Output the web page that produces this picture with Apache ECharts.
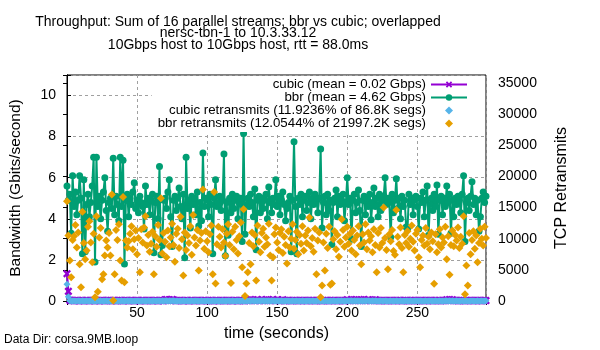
<!DOCTYPE html>
<html>
<head>
<meta charset="utf-8">
<script src="https://cdn.jsdelivr.net/npm/echarts@6/dist/echarts.min.js"></script>
<style>
html,body{margin:0;padding:0;background:#fff;}
#chart{width:600px;height:350px;}
</style>
</head>
<body>
<div id="chart"></div>
<script>
// ---- data ----
const titleLines = [
  'Throughput: Sum of 16 parallel streams; bbr vs cubic; overlapped',
  'nersc-tbn-1 to 10.3.33.12',
  '10Gbps host to 10Gbps host, rtt = 88.0ms'
];
const dataDirLabel = 'Data Dir: corsa.9MB.loop';
const seriesNames = [
  'cubic (mean = 0.02 Gbps)',
  'bbr (mean = 4.62 Gbps)',
  'cubic retransmits (11.9236% of 86.8K segs)',
  'bbr retransmits (12.0544% of 21997.2K segs)'
];
const xTicks = [50, 100, 150, 200, 250];
const leftTicks = [0, 2, 4, 6, 8, 10];
const rightTicks = [0, 5000, 10000, 15000, 20000, 25000, 30000, 35000];

// bandwidth in Gbit/s, one value per second (t = 0 .. 299)
const cubicGbps = [
  1.33,0.47,0.04,0.02,0.02,0.01,0.02,0.03,0.02,0.01,
  0.02,0.02,0.01,0.03,0.02,0.02,0.01,0.02,0.02,0.03,
  0.01,0.02,0.02,0.01,0.03,0.02,0.02,0.01,0.02,0.02,
  0.02,0.03,0.01,0.02,0.02,0.01,0.02,0.03,0.02,0.02,
  0.01,0.02,0.02,0.03,0.01,0.02,0.02,0.02,0.01,0.03,
  0.02,0.02,0.01,0.02,0.03,0.02,0.01,0.02,0.02,0.02,
  0.03,0.01,0.02,0.02,0.02,0.01,0.03,0.02,0.02,0.01,
  0.06,0.07,0.02,0.06,0.03,0.07,0.05,0.02,0.01,0.02,
  0.02,0.03,0.02,0.01,0.02,0.02,0.03,0.01,0.02,0.02,
  0.02,0.01,0.02,0.03,0.02,0.02,0.01,0.02,0.02,0.03,
  0.01,0.02,0.02,0.02,0.03,0.01,0.02,0.02,0.01,0.02,
  0.03,0.02,0.02,0.01,0.02,0.02,0.03,0.02,0.01,0.02,
  0.02,0.02,0.01,0.03,0.02,0.02,0.02,0.01,0.06,0.03,
  0.02,0.07,0.02,0.05,0.02,0.03,0.06,0.02,0.02,0.07,
  0.02,0.03,0.06,0.02,0.05,0.02,0.03,0.07,0.02,0.02,
  0.06,0.02,0.03,0.02,0.06,0.01,0.02,0.02,0.03,0.02,
  0.01,0.02,0.02,0.03,0.02,0.01,0.02,0.02,0.02,0.03,
  0.02,0.01,0.02,0.02,0.03,0.02,0.02,0.01,0.02,0.02,
  0.03,0.02,0.01,0.02,0.02,0.02,0.03,0.01,0.02,0.02,
  0.02,0.03,0.02,0.01,0.02,0.02,0.02,0.03,0.01,0.02,
  0.06,0.02,0.03,0.07,0.02,0.06,0.02,0.05,0.03,0.02,
  0.06,0.02,0.07,0.02,0.03,0.06,0.02,0.02,0.05,0.02,
  0.06,0.03,0.02,0.01,0.02,0.02,0.03,0.02,0.01,0.02,
  0.02,0.02,0.03,0.01,0.02,0.02,0.02,0.03,0.02,0.01,
  0.02,0.03,0.02,0.02,0.01,0.02,0.02,0.03,0.02,0.02,
  0.01,0.02,0.02,0.03,0.02,0.01,0.02,0.02,0.02,0.03,
  0.02,0.01,0.02,0.02,0.03,0.02,0.02,0.01,0.02,0.02,
  0.03,0.06,0.02,0.07,0.02,0.06,0.02,0.02,0.03,0.01,
  0.02,0.02,0.03,0.02,0.01,0.02,0.02,0.02,0.03,0.02,
  0.01,0.02,0.02,0.03,0.02,0.02,0.01,0.02,0.03,0.02
];
const bbrGbps = [
  5.6,4.9,5.2,3.3,6.1,4.6,5.3,4.2,4.9,6.1,
  5.0,2.3,5.9,2.4,4.7,5.2,4.1,4.8,5.6,7.0,
  1.9,7.0,4.6,5.1,4.0,4.9,5.3,6.0,4.4,3.4,
  4.8,5.0,4.5,6.95,4.2,5.1,4.7,3.9,7.0,4.6,
  6.85,1.8,4.9,5.2,4.1,5.0,4.7,5.3,5.75,4.5,
  4.9,4.3,5.1,4.8,4.6,3.5,5.6,4.7,5.0,4.2,
  4.9,5.2,2.35,4.8,5.1,4.0,6.55,2.25,2.7,4.9,
  5.0,4.5,5.3,5.9,4.1,2.65,4.9,5.1,4.4,5.0,
  5.5,4.6,4.0,5.2,2.1,7.0,4.5,4.9,3.55,5.1,
  4.7,5.0,4.2,5.3,3.65,4.8,3.9,7.2,4.6,5.0,
  4.9,4.1,5.2,4.7,2.3,5.0,5.9,4.6,4.8,5.1,
  4.4,4.9,7.15,2.2,4.8,3.2,5.0,4.3,5.2,4.5,
  4.9,5.1,4.0,4.8,5.0,2.9,8.15,3.25,4.7,5.0,
  4.6,5.2,4.8,4.1,5.45,2.5,4.9,5.1,4.3,5.0,
  4.5,4.9,5.2,4.0,5.55,4.8,4.3,5.0,4.7,5.9,
  4.6,5.1,4.2,4.9,5.3,4.7,3.9,4.5,4.8,5.1,
  2.4,4.9,7.75,4.6,2.3,5.0,4.7,5.2,4.1,4.9,
  5.1,4.4,4.8,5.3,4.0,5.0,4.7,5.2,4.9,4.3,
  5.0,7.4,3.55,4.8,5.1,4.2,5.2,4.4,4.9,2.75,
  4.8,5.0,5.4,4.1,5.1,4.7,4.9,5.2,3.9,4.8,
  6.0,4.7,5.0,3.0,4.9,5.2,4.3,4.8,5.4,4.4,
  2.65,4.9,5.1,4.2,5.0,4.6,5.2,3.95,4.8,5.5,
  4.6,5.0,4.1,5.2,4.4,4.9,5.1,6.0,4.7,5.0,
  4.8,3.1,5.2,4.3,4.9,5.95,4.5,5.0,4.0,5.1,
  4.6,4.9,3.6,3.5,5.2,4.7,5.0,4.2,4.9,5.1,
  4.6,3.5,5.0,4.8,5.3,4.1,4.9,5.6,3.2,4.7,
  5.0,4.4,5.2,4.6,5.65,3.25,4.9,5.1,4.2,5.0,
  4.6,5.6,4.8,5.2,3.3,4.9,4.1,5.0,4.7,5.1,
  4.9,4.3,5.2,6.1,2.9,4.8,5.0,4.4,5.1,5.8,
  4.7,5.0,4.2,4.9,3.4,4.1,5.0,5.3,4.8,5.1
];
// TCP retransmits per second
const cubicRetrans = [
  2700,700,60,20,0,30,10,0,40,20,
  10,30,0,20,40,10,0,30,20,10,
  0,20,30,10,40,0,20,10,30,0,
  20,10,40,0,30,20,10,0,20,30,
  10,0,20,40,10,30,0,20,10,20,
  30,10,0,20,40,10,20,0,30,10,
  20,0,30,10,20,40,0,10,30,20,
  40,30,10,50,20,40,30,0,10,20,
  0,20,10,30,0,20,40,10,0,30,
  20,10,30,0,20,10,40,20,0,10,
  30,20,0,10,40,20,10,30,0,20,
  10,30,20,0,10,40,20,0,30,10,
  20,0,40,10,20,30,0,10,50,20,
  40,10,50,30,20,40,10,30,20,50,
  30,20,40,10,50,20,30,40,10,20,
  40,10,20,30,0,20,10,40,20,0,
  10,30,0,20,40,10,20,0,30,10,
  20,0,30,10,20,40,10,0,20,30,
  10,20,40,0,10,30,20,10,0,20,
  30,10,0,20,40,10,30,20,0,10,
  40,20,30,50,10,40,20,30,10,20,
  50,20,40,10,30,40,20,10,30,20,
  40,10,20,0,30,10,20,40,0,10,
  20,30,10,0,20,40,10,20,30,0,
  10,20,40,10,0,30,20,10,20,40,
  0,10,30,20,10,0,40,20,10,30,
  20,0,10,30,20,10,40,0,20,10,
  30,40,20,50,10,40,20,10,30,0,
  20,10,30,0,20,40,10,20,0,30,
  10,20,0,30,20,10,40,20,10,30
];
const bbrRetrans = [
  16000,10500,6500,3800,9800,10400,12200,8600,11000,5900,
  2200,14300,9300,6700,8100,11900,12800,9400,6200,10800,
  600,13600,1500,10200,11700,3500,4300,7300,9700,8600,
  10900,7300,17100,80,4300,11400,9800,12300,6500,3300,
  16700,3000,9700,8600,9600,10800,12000,8300,9900,11300,
  7500,10100,4600,11500,9400,11800,13600,8900,10600,7900,
  9200,11100,4300,10400,8700,12200,9800,16500,7600,10900,
  9500,7000,11300,8800,10200,12400,9000,6300,10800,11600,
  8500,13500,9900,4100,11000,8200,10500,9300,12000,7400,
  13800,10200,8900,11400,4900,9700,10900,17900,8400,11200,
  9600,7800,10700,12100,4300,17500,2800,9100,11900,10300,
  8600,11500,9400,7200,10800,12300,9000,2900,11100,8300,
  11900,9800,7600,10400,12600,5400,14700,800,2800,4600,
  9300,5900,11000,8800,10600,3300,12100,9500,7800,10900,
  11600,8700,10200,9100,12400,7300,3300,7000,10700,11800,
  9400,8200,10900,11500,7700,10300,9000,6000,11200,8600,
  10000,12300,8400,9800,11100,7500,10600,9200,12000,8100,
  10500,9300,11300,13400,8800,10100,7900,11600,4300,9700,
  11000,600,2500,9400,4900,10800,8500,11900,2600,2800,
  9900,11200,8300,10600,7100,9500,13100,11400,8700,10200,
  11900,9200,10800,8100,11300,9800,7500,10500,12000,8900,
  5900,10700,9400,12300,8300,11000,9700,10400,7800,11500,
  9000,4600,10900,8600,11700,9300,15000,10100,8200,5100,
  10700,9600,11400,8000,7400,14600,10300,9100,11800,8500,
  4600,10600,9300,11200,8700,10000,12100,9500,8100,10800,
  11400,7000,5400,9800,10500,8900,11700,9200,10300,8300,
  11000,9600,2750,10700,7800,9100,11500,8600,10200,9400,
  11900,6700,10400,4200,9000,11300,8800,10600,9700,11800,
  8500,10300,9200,13600,1100,5700,2500,10900,7500,9800,
  11200,8400,10500,6200,9300,11600,10000,8900,11900,10100
];

// ---- chart ----
const FONT = 'Liberation Sans, Arial, sans-serif';
const xMax = cubicGbps.length - 1;           // last sample second
const pairs = arr => arr.map((v, i) => [i, v]); // x = sample index in seconds
const X_SYMBOL = 'path://M0,2L2,0L5,3L8,0L10,2L7,5L10,8L8,10L5,7L2,10L0,8L3,5Z';
const DIAMOND_ICON = 'path://M5,0L10,5L5,10L0,5Z';
const gridLine = { show: true, lineStyle: { color: '#a0a0a0', type: [3, 3], width: 1 } };

const chart = echarts.init(document.getElementById('chart'), null, { renderer: 'canvas' });
chart.setOption({
  animation: false,
  backgroundColor: '#fff',
  textStyle: { fontFamily: FONT, color: '#000' },
  title: {
    text: titleLines.join('\n'),
    left: 238, top: 16, padding: 0,
    textAlign: 'center',
    textStyle: { fontFamily: FONT, fontSize: 14, fontWeight: 'normal', color: '#000', lineHeight: 11.5 }
  },
  grid: { left: 64, right: 114, top: 75, bottom: 49, show: true, borderColor: '#000', borderWidth: 1, backgroundColor: 'transparent' },
  legend: {
    orient: 'vertical', align: 'right',
    right: 115, top: 76,
    padding: [2, 17, 2, 6],
    backgroundColor: '#fff',
    itemWidth: 36, itemHeight: 8, itemGap: 0,
    textStyle: { fontFamily: FONT, fontSize: 13.3, color: '#000', lineHeight: 12 },
    selectedMode: false,
    data: [
      { name: seriesNames[0] },
      { name: seriesNames[1] },
      { name: seriesNames[2], icon: DIAMOND_ICON },
      { name: seriesNames[3], icon: DIAMOND_ICON }
    ]
  },
  xAxis: [{
    type: 'value', min: 0, max: xMax, interval: 50,
    name: 'time (seconds)', nameLocation: 'middle', nameGap: 25,
    nameTextStyle: { fontFamily: FONT, fontSize: 16, color: '#000' },
    axisLine: { show: true, lineStyle: { color: '#000', width: 1 } },
    axisTick: { show: true, inside: true, length: 4, lineStyle: { color: '#000' } },
    axisLabel: { margin: 5, fontFamily: FONT, fontSize: 14, color: '#000',
      formatter: v => xTicks.includes(v) ? String(v) : '' },
    splitLine: gridLine
  }, {
    type: 'value', min: 0, max: xMax, interval: 50, position: 'top',
    axisLine: { show: false },
    axisTick: { show: true, inside: true, length: 4, lineStyle: { color: '#000' } },
    axisLabel: { show: false }, splitLine: { show: false }
  }],
  yAxis: [{
    type: 'value', min: 0, max: 11, interval: 2, position: 'left',
    name: 'Bandwidth (Gbits/second)', nameLocation: 'middle', nameGap: 43,
    nameTextStyle: { fontFamily: FONT, fontSize: 15.5, color: '#000' },
    axisLine: { show: true, lineStyle: { color: '#000', width: 1 } },
    axisTick: { show: true, inside: true, length: 4, lineStyle: { color: '#000' } },
    axisLabel: { margin: 11, fontFamily: FONT, fontSize: 14, color: '#000',
      formatter: v => leftTicks.includes(v) ? String(v) : '' },
    splitLine: gridLine
  }, {
    type: 'value', min: 0, max: 36250, interval: 5000, position: 'right',
    name: 'TCP Retransmits', nameLocation: 'middle', nameGap: 68,
    nameTextStyle: { fontFamily: FONT, fontSize: 16, color: '#000' },
    axisLine: { show: true, lineStyle: { color: '#000', width: 1 } },
    axisTick: { show: true, inside: true, length: 4, lineStyle: { color: '#000' } },
    axisLabel: { margin: 12, fontFamily: FONT, fontSize: 14, color: '#000',
      formatter: v => rightTicks.includes(v) ? String(v) : '' },
    splitLine: { show: false }
  }],
  series: [{
    name: seriesNames[0], type: 'line', yAxisIndex: 0, clip: false, z: 2,
    data: pairs(cubicGbps),
    symbol: X_SYMBOL, symbolSize: 8, showAllSymbol: true,
    lineStyle: { color: '#9400d3', width: 2 },
    itemStyle: { color: '#9400d3' }
  }, {
    name: seriesNames[1], type: 'line', yAxisIndex: 0, clip: false, z: 3,
    data: pairs(bbrGbps),
    symbol: 'circle', symbolSize: 7, showAllSymbol: true,
    lineStyle: { color: '#009e73', width: 2 },
    itemStyle: { color: '#009e73' }
  }, {
    name: seriesNames[2], type: 'scatter', yAxisIndex: 1, clip: false, z: 4,
    data: pairs(cubicRetrans),
    symbol: 'diamond', symbolSize: 7,
    itemStyle: { color: '#56b4e9', opacity: 1 }
  }, {
    name: seriesNames[3], type: 'scatter', yAxisIndex: 1, clip: false, z: 5,
    data: pairs(bbrRetrans),
    symbol: 'diamond', symbolSize: 8,
    itemStyle: { color: '#e69f00', opacity: 1 }
  }],
  graphic: [{
    type: 'text', left: 4, top: 334,
    style: { text: dataDirLabel, font: '12px ' + FONT, fill: '#000' }
  }]
});
</script>
</body>
</html>
